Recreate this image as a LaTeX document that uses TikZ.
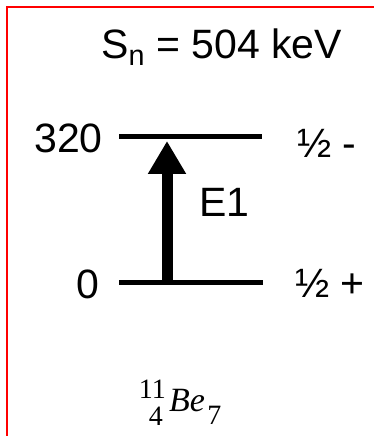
\documentclass[tikz,border=0pt]{standalone}
\usepackage{fontspec}
\setmainfont{Liberation Sans}
\newfontfamily\serifx{Liberation Serif}
\usetikzlibrary{arrows.meta}
\tikzset{
  level/.style={line width=5pt, black},
  trans/.style={line width=11pt, -{Triangle[width=36pt,length=33pt]}},
  lbl/.style={inner sep=0pt, font=\fontsize{41}{41}\selectfont},
  nuc/.style={inner sep=0pt, font=\serifx\fontsize{28}{28}\selectfont},
  frame/.style={red, line width=2pt}
}
\begin{document}
\begin{tikzpicture}[x=1pt,y=1pt]
\useasboundingbox (0,0) rectangle (373,436);
\coordinate (fbl) at (7,-5);
\coordinate (ftl) at (7,429);
\coordinate (ftr) at (380,429);
\draw[frame] (fbl) -- (ftl) -- (ftr);
% levels
\coordinate (u1) at (119,299);
\coordinate (u2) at (262,299);
\coordinate (g1) at (119,153);
\coordinate (g2) at (263,153);
\draw[level] (u1) -- (u2);
\draw[level] (g1) -- (g2);
% transition
\coordinate (ta) at (167,153);
\coordinate (tb) at (167,295);
\draw[trans] (ta) -- (tb);
% labels
\node[lbl, anchor=base west] (sn) at (101,377) {S\textsubscript{n} = 504 keV};
\node[lbl, anchor=base east] (e320) at (103,283) {320};
\node[lbl, anchor=base east] (e0) at (100,137) {0};
\node[lbl, anchor=base west] (e1) at (199,219) {E1};
\node[lbl, anchor=base west] (jpu) at (297,278) {½ -};
\node[lbl, anchor=base west] (jpg) at (295,138) {½ +};
% nucleus
\node[nuc, anchor=base west, font=\serifx\itshape\fontsize{34}{34}\selectfont] (be) at (169,24) {Be};
\node[nuc, anchor=base east] (aa) at (166,37) {11};
\node[nuc, anchor=base east] (zz) at (163,10) {4};
\node[nuc, anchor=base west] (nn) at (be.base east) [yshift=-13pt, xshift=2pt] {7};
\end{tikzpicture}
\end{document}
